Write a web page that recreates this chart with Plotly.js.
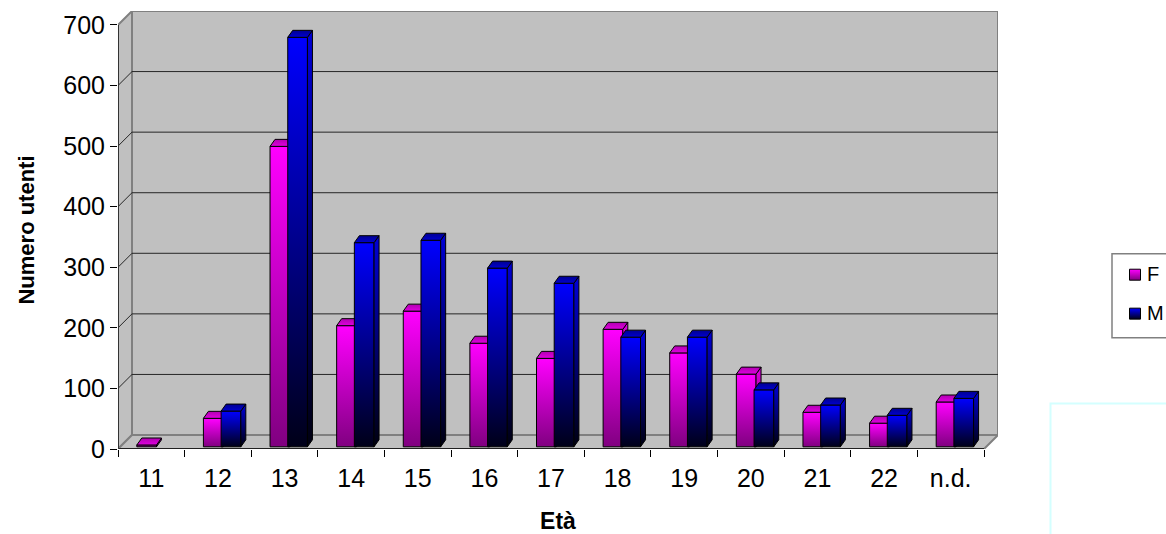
<!DOCTYPE html>
<html>
<head>
<meta charset="utf-8">
<script src="https://cdn.plot.ly/plotly-3.0.1.min.js"></script>
<style>html,body{margin:0;padding:0;background:#fff;overflow:hidden}</style>
</head>
<body>
<div id="chart" style="width:1166px;height:534px"></div>
<script>
const categories = ['11','12','13','14','15','16','17','18','19','20','21','22','n.d.'];
const valuesF = [3,47,496,200,224,171,146,194,155,120,57,39,74];
const valuesM = [null,59,676,337,341,295,270,181,181,94,69,52,80];
const yTicks = [0,100,200,300,400,500,600,700];
const xLabel = 'Età';
const yLabel = 'Numero utenti';
const seriesNames = ['F','M'];

const W = 1166, H = 534, L = 118, T = 11, R = 998, B = 449.5;
const depthPx = 14;
const unitX = (R - L - depthPx) / categories.length;
const unitY = (B - T - depthPx) / 700;
const wallDX = depthPx / unitX, wallDY = depthPx / unitY;
const xRange = [0, categories.length + wallDX];
const yRange = [0, 700 + wallDY];

const barShift = 3.2 / unitX, barBase = 2.2 / unitY, barW = 19.7 / unitX, leftReach = 17.7 / unitX;
const sideDX = 5 / unitX, sideDY = 7 / unitY;
const centers = categories.map((_, i) => i + 0.5 + barShift);

function poly(xs, ys, fill, color, width, xa, ya) {
  return {type:'scatter', mode:'lines', x:xs, y:ys, fill:fill ? 'toself' : 'none',
    fillcolor:fill || undefined, line:{color:color, width:width}, xaxis:xa, yaxis:ya,
    hoverinfo:'skip', showlegend:false};
}

const traces = [];
/* walls */
traces.push(poly([0,wallDX,wallDX,0,0],[0,wallDY,700+wallDY,700,0],'#c0c0c0','#808080',2,'x','y'));
traces.push(poly([0,categories.length,categories.length+wallDX,wallDX,0],[0,0,wallDY,wallDY,0],'#c0c0c0','#808080',2,'x','y'));
traces.push(poly([wallDX,categories.length+wallDX,categories.length+wallDX,wallDX,wallDX],[wallDY,wallDY,700+wallDY,700+wallDY,wallDY],'#c0c0c0','#808080',2,'x','y'));
yTicks.slice(1,-1).forEach(v => {
  traces.push(poly([0,wallDX,categories.length+wallDX],[v,v+wallDY,v+wallDY],null,'#262626',1,'x','y'));
});

function addSeries(vals, name, idx, front, side, top, xa, ya) {
  const lefts = centers.map(c => idx === 0 ? c - leftReach : c);
  traces.push({type:'bar', name:name, x:lefts.map(l => l + barW/2), y:vals, base:vals.map(() => barBase),
    width:barW, marker:{color:front, line:{color:'#000', width:1}}, xaxis:xa, yaxis:ya,
    hoverinfo:'skip', showlegend:false});
  vals.forEach((v,i) => {
    if (v === null) return;
    const x0 = lefts[i], x1 = x0 + barW, b = barBase, t = barBase + v;
    traces.push(poly([x1,x1+sideDX,x1+sideDX,x1,x1],[b,b+sideDY,t+sideDY,t,b],side,'#000',1,xa,ya));
    traces.push(poly([x0,x1,x1+sideDX,x0+sideDX,x0],[t,t,t+sideDY,t+sideDY,t],top,'#000',1,xa,ya));
  });
}
addSeries(valuesF, seriesNames[0], 0, '#ff00ff', '#fe00fe', '#fd00fd', 'x2', 'y2');
addSeries(valuesM, seriesNames[1], 1, '#0000ff', '#0000fe', '#0000fd', 'x3', 'y3');

const font = 'Liberation Sans, Arial, sans-serif';
const toPaperX = v => (v - L) / (R - L);
const toPaperY = v => (B - v) / (B - T);

function rect(x0,y0,x1,y1,fill,line,w){
  return {type:'rect', xref:'paper', yref:'paper', x0:toPaperX(x0), x1:toPaperX(x1), y0:toPaperY(y0), y1:toPaperY(y1),
    fillcolor:fill, line:{color:line, width:w}, layer:'above'};
}
const hidden = {visible:false, fixedrange:true};
const layout = {
  width:W, height:H, paper_bgcolor:'#fff', plot_bgcolor:'rgba(0,0,0,0)',
  margin:{l:L, r:W-R, t:T, b:H-B, pad:0}, showlegend:false, barmode:'overlay',
  font:{family:font, color:'#000', size:20},
  xaxis:{range:xRange, tickmode:'array', tickvals:categories.map((_,i)=>i+0.5), ticktext:categories,
    ticks:'', tickfont:{size:25}, ticklabelstandoff:12, showgrid:false, zeroline:false, showline:false, fixedrange:true,
    minor:{tickmode:'array', tickvals:categories.map((_,i)=>i).concat([categories.length]), ticks:'outside', ticklen:7, tickcolor:'#000', tickwidth:1, showgrid:false},
    title:{text:xLabel, font:{size:23, family:font, weight:'bold'}, standoff:21}},
  yaxis:{range:yRange, tickmode:'array', tickvals:yTicks, ticks:'outside', ticklen:7, tickcolor:'#000', tickwidth:1,
    tickfont:{size:25}, showgrid:false, zeroline:false, showline:false, fixedrange:true,
    title:{text:yLabel, font:{size:22, family:font, weight:'bold'}, standoff:22}},
  xaxis2:Object.assign({overlaying:'x', range:xRange, anchor:'y2'},hidden),
  yaxis2:Object.assign({overlaying:'y', range:yRange, anchor:'x2'},hidden),
  xaxis3:Object.assign({overlaying:'x', range:xRange, anchor:'y3'},hidden),
  yaxis3:Object.assign({overlaying:'y', range:yRange, anchor:'x3'},hidden),
  shapes:[
    {type:'line', xref:'x', yref:'y', x0:0, x1:categories.length, y0:0, y1:0, line:{color:'#000', width:1.5}},
    {type:'line', xref:'x', yref:'y', x0:0, x1:0, y0:0, y1:700, line:{color:'#333', width:2}},
    rect(1112,254,1180,338,'rgba(0,0,0,0)','#808080',1.5),
    rect(1129.5,269.5,1140.5,280.5,'#fc00fc','#000',1),
    rect(1129.5,308.5,1140.5,319.5,'#0000fc','#000',1),
    rect(1050.5,404,1180,560,'rgba(0,0,0,0)','#d4ffff',2)
  ],
  annotations:[
    {xref:'paper', yref:'paper', x:toPaperX(1145), y:toPaperY(274.5), xanchor:'left', yanchor:'middle', text:seriesNames[0], showarrow:false, font:{size:20}},
    {xref:'paper', yref:'paper', x:toPaperX(1145), y:toPaperY(313), xanchor:'left', yanchor:'middle', text:seriesNames[1], showarrow:false, font:{size:20}}
  ]
};

Plotly.newPlot('chart', traces, layout, {displayModeBar:false, staticPlot:true}).then(gd => {
  const svg = gd.querySelector('svg.main-svg');
  const NS = 'http://www.w3.org/2000/svg';
  const defs = document.createElementNS(NS,'defs');
  const grads = {
    'rgb(255, 0, 255)':['gF','#ff00ff','#800080'],
    'rgb(254, 0, 254)':['gFs','#e000e0','#500050'],
    'rgb(253, 0, 253)':['gFt','#b000b0','#e000e0'],
    'rgb(252, 0, 252)':['gFl','#ff00ff','#800080'],
    'rgb(0, 0, 255)':['gM','#0000ff','#000018'],
    'rgb(0, 0, 254)':['gMs','#0000d8','#000010'],
    'rgb(0, 0, 253)':['gMt','#000090','#0000d0'],
    'rgb(0, 0, 252)':['gMl','#0000ff','#000018']
  };
  Object.values(grads).forEach(([id,a,b]) => {
    const g = document.createElementNS(NS,'linearGradient');
    g.setAttribute('id',id); g.setAttribute('x1','0'); g.setAttribute('y1','0'); g.setAttribute('x2','0'); g.setAttribute('y2','1');
    [[0,a],[1,b]].forEach(([o,c]) => {
      const s = document.createElementNS(NS,'stop');
      s.setAttribute('offset',o); s.setAttribute('stop-color',c); g.appendChild(s);
    });
    defs.appendChild(g);
  });
  svg.insertBefore(defs, svg.firstChild);
  gd.querySelectorAll('.barlayer .point path, .scatterlayer .js-fill, .shapelayer path').forEach(p => {
    const f = p.style.fill;
    if (grads[f]) p.style.fill = 'url(#' + grads[f][0] + ')';
  });
});
</script>
</body>
</html>
